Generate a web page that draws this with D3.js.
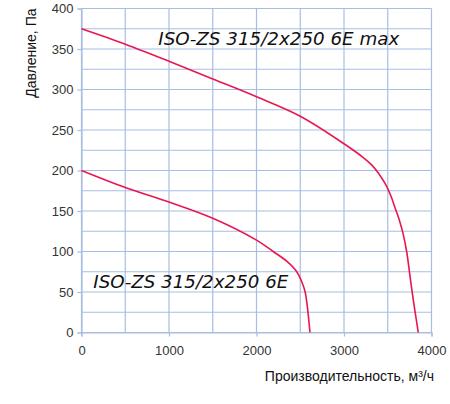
<!DOCTYPE html>
<html>
<head>
<meta charset="utf-8">
<script src="https://cdn.jsdelivr.net/npm/d3@7"></script>
<style>
  body { margin: 0; background: #fff; }
  text { font-family: "Liberation Sans", Arial, sans-serif; }
</style>
</head>
<body>
<div id="vis"></div>
<script>
// flow, m3/h and pressure, Pa
const maxFlow = [0, 500, 1000, 1500, 2000, 2500, 3000, 3220, 3316, 3392, 3469, 3506, 3545, 3583, 3632, 3675, 3716, 3754, 3792, 3849]
const maxPress = [375, 356, 335, 313, 291, 267, 233, 216, 207, 197, 184, 176, 166, 154, 139, 122, 100, 70, 40, 0]
const minFlow = [0, 500, 1000, 1500, 2000, 2190, 2345, 2460, 2516, 2554, 2581, 2611]
const minPress = [200, 179, 161, 141, 114, 100, 88, 75, 63, 51, 32, 0]

const xTicks = [0, 1000, 2000, 3000, 4000]
const yTicks = [0, 50, 100, 150, 200, 250, 300, 350, 400]
const seriesNames = ["ISO-ZS 315/2x250 6E max", "ISO-ZS 315/2x250 6E"]

const W = 450, H = 404
const m = {left: 81.5, right: 18.5, top: 8.5, bottom: 71.5}

const svg = d3.select("#vis").append("svg").attr("width", W).attr("height", H)

const x = d3.scaleLinear().domain([0, 4000]).range([m.left, W - m.right])
const y = d3.scaleLinear().domain([0, 400]).range([H - m.bottom, m.top])

const gridColor = "#a8bde2"

// grid
svg.append("g").selectAll("line").data(d3.range(0, 4001, 500)).join("line")
  .attr("x1", d => x(d)).attr("x2", d => x(d))
  .attr("y1", y(0)).attr("y2", y(400))
  .attr("stroke", gridColor).attr("stroke-width", 1.2)
svg.append("g").selectAll("line").data(d3.range(0, 401, 25)).join("line")
  .attr("x1", x(0)).attr("x2", x(4000))
  .attr("y1", d => y(d)).attr("y2", d => y(d))
  .attr("stroke", gridColor).attr("stroke-width", 1.2)

// axes
const xAxis = svg.append("g").attr("transform", `translate(0,${y(0)})`)
  .call(d3.axisBottom(x).tickValues(xTicks).tickSize(4).tickPadding(9).tickFormat(d3.format("d")))
const yAxis = svg.append("g").attr("transform", `translate(${x(0)},0)`)
  .call(d3.axisLeft(y).tickValues(yTicks).tickSize(4).tickPadding(4))
;[xAxis, yAxis].forEach(a => {
  a.select(".domain").attr("stroke", gridColor).attr("stroke-width", 1.2)
  a.selectAll(".tick line").attr("stroke", gridColor).attr("stroke-width", 1.2)
  a.selectAll(".tick text").attr("fill", "#333").style("font-size", "13px")
    .style("font-family", "'Liberation Sans', Arial, sans-serif")
})

// curves
const line = d3.line().x(d => x(d[0])).y(d => y(d[1])).curve(d3.curveCatmullRom.alpha(0.5))
const curves = [d3.zip(maxFlow, maxPress), d3.zip(minFlow, minPress)]
svg.append("g").selectAll("path").data(curves).join("path")
  .attr("d", line)
  .attr("fill", "none")
  .attr("stroke", "#e8174f")
  .attr("stroke-width", 1.6)

// series labels: [flow, pressure, text length px]
const labelPos = [[878, 355, 241], [135, 55, 195]]
svg.append("g").selectAll("text").data(seriesNames).join("text")
  .attr("x", (d, i) => x(labelPos[i][0]))
  .attr("y", (d, i) => y(labelPos[i][1]))
  .attr("textLength", (d, i) => labelPos[i][2])
  .attr("lengthAdjust", "spacingAndGlyphs")
  .style("font-size", "18px")
  .style("font-style", "italic")
  .style("font-family", "'DejaVu Sans', sans-serif")
  .attr("fill", "#111")
  .text(d => d)

// axis titles
svg.append("text")
  .attr("transform", `translate(36,${m.top}) rotate(-90)`)
  .attr("text-anchor", "end")
  .style("font-size", "14px")
  .attr("fill", "#111")
  .text("Давление, Па")

svg.append("text")
  .attr("x", 434).attr("y", 381)
  .attr("text-anchor", "end")
  .style("font-size", "14px")
  .attr("fill", "#111")
  .text("Производительность, м³/ч")
</script>
</body>
</html>
